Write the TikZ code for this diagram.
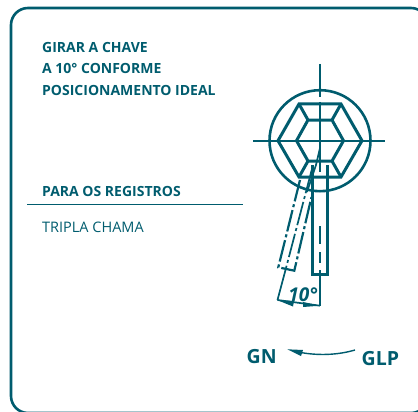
\documentclass[tikz,border=0pt]{standalone}
\usepackage{fontspec}
\setmainfont{Open Sans}
\definecolor{teal1}{HTML}{005C6E}
\tikzset{
  lbl/.style={anchor=base west,inner sep=0pt,text=teal1,font=\fontsize{14}{14}\selectfont\bfseries},
  lblreg/.style={anchor=base west,inner sep=0pt,text=teal1,font=\fontsize{14.5}{14.5}\selectfont},
  big/.style={anchor=base west,inner sep=0pt,text=teal1,font=\fontsize{19.5}{19.5}\selectfont\bfseries},
  thick1/.style={draw=teal1,line width=3pt},
  thin1/.style={draw=teal1,line width=1.2pt},
  axisl/.style={draw=teal1,line width=1.7pt},
  keyd/.style={draw=teal1,line width=2.2pt,dash pattern=on 22pt off 3pt on 3pt off 3pt},
}
\begin{document}
\begin{tikzpicture}[x=1pt,y=-1pt]
\useasboundingbox (0,0) rectangle (418,412);
\clip (0,0) rectangle (418,412);
\draw[draw=teal1,line width=2.6pt,rounded corners=17pt] (11,8) rectangle (428,413);
% texts
\node[lbl] (t1) at (42,52.5) {GIRAR A CHAVE};
\node[lbl] (t2) at (42,73.5) {A 10° CONFORME};
\node[lbl] (t3) at (42,95.5) {POSICIONAMENTO IDEAL};
\node[lbl] (t4) at (42,196.5) {PARA OS REGISTROS};
\draw[thin1] (27,204.7) -- (243,204.7);
\node[lblreg] (t5) at (42,232.5) {TRIPLA CHAMA};
% head
\coordinate (c) at (320,140.7);
\draw[draw=teal1,line width=2.6pt] (c) circle (50.5);
\draw[thick1,line join=miter] (278,140.7) -- (299,104) -- (341,104) -- (362,140.7) -- (341,177) -- (299,177) -- cycle;
\draw[thick1,line join=miter] (296.5,140.7) -- (308,120) -- (332,120) -- (343.5,140.7) -- (332,161) -- (308,161) -- cycle;
\draw[thick1] (299,104) -- (308,120) (341,104) -- (332,120) (299,177) -- (308,161) (341,177) -- (332,161);
% centre lines
\draw[axisl] (253,140.7) -- (385,140.7);
\draw[axisl] (320,64) -- (320,97) (320,102) -- (320,172);
\draw[axisl] (320,148) -- (316,165);
% straight key
\draw[thick1,line join=miter] (312.5,165) -- (312.5,274.3) -- (327.5,274.3) -- (327.5,165);
\draw[axisl] (320,176) -- (320,178) (320,226) -- (320,244) (320,252) -- (320,263) (320,270) -- (320,306);
% tilted key
\draw[keyd] (300,180) -- (278.3,267.3) -- (294.3,270.7) -- (311.5,197);
\draw[draw=teal1,line width=1.7pt,dash pattern=on 24pt off 3pt on 3pt off 3pt] (311.7,170) -- (285.5,270);
\draw[axisl] (285.5,270) -- (277.5,300);
\draw[axisl] (316,165) -- (307,192);
% dimension
\draw[axisl] (277.5,300) -- (320,305.7);
\fill[teal1] (277,300) -- (294,301) -- (293,306.5) -- cycle;
\fill[teal1] (320,305.7) -- (303,302) -- (303,307) -- cycle;
\node[anchor=base,inner sep=0pt,text=teal1,font=\fontsize{19}{19}\selectfont\bfseries\itshape] (ang) at (303,301) {10°};
% direction arrow
\node[big] (gn) at (246.5,363) {GN};
\node[big] (glp) at (361.5,365) {GLP};
\draw[draw=teal1,line width=1.4pt] (355,350) .. controls (338,355) and (318,356) .. (298,352);
\fill[teal1] (287.3,349.3) -- (303,350) -- (301,356) -- cycle;
\end{tikzpicture}
\end{document}
